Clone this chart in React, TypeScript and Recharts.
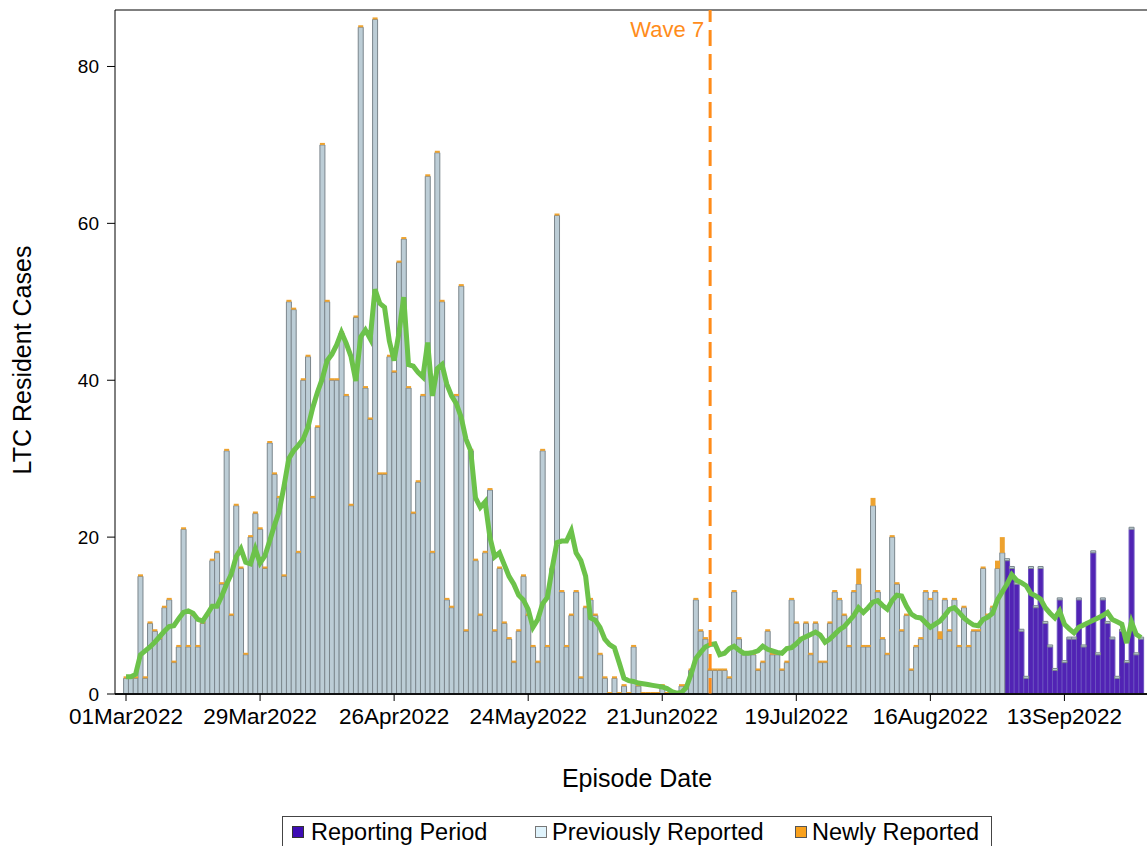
import React from 'react';
import { ComposedChart, Bar, Line, XAxis, YAxis, ReferenceLine } from 'recharts';

// daily LTC resident cases, 01Mar2022 = day 0
const dailyCases = [
  2, 2, 2, 15, 2, 9, 8, 7, 11, 12,
  4, 6, 21, 6, 10, 6, 9, 10, 17, 18,
  14, 31, 10, 24, 16, 5, 20, 23, 21, 16,
  32, 28, 25, 15, 50, 49, 18, 40, 43, 25,
  34, 70, 50, 40, 40, 46, 38, 24, 48, 85,
  39, 35, 86, 28, 28, 43, 41, 55, 58, 39,
  23, 27, 38, 66, 18, 69, 50, 12, 11, 38,
  52, 8, 31, 17, 10, 18, 26, 8, 16, 9,
  7, 4, 8, 15, 10, 6, 4, 31, 6, 16,
  61, 13, 6, 10, 13, 2, 11, 12, 10, 5,
  2, 0, 2, 0, 1, 0, 6, 1, 0, 0,
  0, 0, 1, 0, 0, 0, 1, 1, 3, 12,
  8, 7, 3, 3, 3, 3, 2, 13, 7, 5,
  5, 5, 3, 4, 8, 5, 5, 3, 4, 12,
  9, 7, 9, 5, 9, 4, 4, 9, 13, 12,
  10, 6, 13, 16, 6, 6, 25, 13, 7, 5,
  20, 14, 8, 10, 3, 6, 7, 13, 12, 13,
  8, 12, 8, 12, 6, 11, 6, 8, 8, 16,
  10, 11, 17, 20, 17, 16, 14, 8, 2, 16,
  11, 16, 9, 6, 3, 12, 4, 7, 7, 12,
  6, 9, 18, 5, 12, 9, 7, 2, 8, 4,
  21, 5, 7,
];

// [day, cases] newly reported on top of the daily bar
const newlyReported = [
  [153, 2],
  [156, 1],
  [170, 1],
  [182, 1],
  [183, 2],
];

// green moving-average line
const movingAvg = [
  2.2, 2.2, 2.5, 5.0, 5.5, 6.0, 6.6, 7.3, 8.0, 8.6,
  8.7, 9.6, 10.4, 10.6, 10.3, 9.5, 9.3, 10.2, 11.2, 11.2,
  12.5, 14.0, 15.3, 17.5, 18.5, 16.8, 16.6, 18.5, 16.7, 17.6,
  19.5, 21.5, 23.3, 26.5, 30.0, 31.0, 31.7, 32.5, 34.0, 36.5,
  38.5, 40.2, 42.5, 43.3, 44.5, 46.1, 44.7, 43.0, 39.9, 45.5,
  46.4, 45.3, 51.6, 49.8, 49.3, 45.0, 42.5, 46.0, 50.6, 42.0,
  41.8, 41.0, 40.4, 44.8, 38.0, 41.5, 42.0, 39.5, 38.0, 37.0,
  35.3, 32.5, 31.0, 25.0, 23.8, 24.5, 20.0, 17.5, 18.0, 16.5,
  15.0, 14.0, 12.6, 12.0, 10.8, 8.5, 9.5, 11.5, 12.3, 16.0,
  19.3, 19.5, 19.5, 20.8, 18.0, 17.0, 15.0, 9.7, 9.4, 8.5,
  7.0, 6.3, 5.9, 4.0, 2.0, 1.7, 1.6, 1.4, 1.3, 1.2,
  1.1, 1.0, 0.9, 0.7, 0.3, 0.1, 0.2, 0.8, 2.5, 4.5,
  5.3, 6.0, 6.3, 6.4, 5.0, 5.2, 5.8, 6.1, 5.6, 5.2,
  5.2, 5.3, 5.5, 6.1, 5.7, 5.5, 5.3, 5.2, 5.8, 5.9,
  6.4, 7.0, 7.3, 7.6, 7.9, 7.5, 6.6, 7.0, 7.6, 8.2,
  8.6, 9.3, 10.0, 11.0, 10.4, 11.0, 11.7, 11.9, 11.3, 10.8,
  11.9, 12.6, 12.5, 11.2, 10.2, 9.8, 9.7, 9.1, 8.5, 8.9,
  9.3, 10.0, 10.8, 11.0, 10.4, 9.7, 9.2, 8.8, 8.7, 9.5,
  9.8, 10.3, 12.0, 13.0, 14.0, 15.2, 14.5, 14.2, 13.8, 12.8,
  12.5, 12.1, 11.0, 10.3, 9.7, 10.6, 8.9, 8.3, 7.8, 8.5,
  8.8, 9.1, 9.4, 9.7, 10.0, 10.4, 9.5, 9.2, 8.9, 6.5,
  9.2, 7.6, 7.2,
];

const reportStartDay = 184; // 01Sep2022
const waveDay = 122; // 01Jul2022
const tickDays = [0, 28, 56, 84, 112, 140, 168, 196];
const tickLabels = ['01Mar2022', '29Mar2022', '26Apr2022', '24May2022', '21Jun2022', '19Jul2022', '16Aug2022', '13Sep2022'];
const yTicks = [0, 20, 40, 60, 80];

const FONT = '"Liberation Sans", Arial, sans-serif';
const ORANGE = '#ff8c1a';

const rows = dailyCases.map((total, day) => {
  const hit = newlyReported.find((n) => n[0] === day);
  const fresh = hit ? hit[1] : 0;
  const inPeriod = day >= reportStartDay;
  return {
    day,
    reporting: inPeriod ? total : 0,
    prev: inPeriod ? 0 : total - fresh,
    fresh: inPeriod ? 0 : fresh,
    avg: movingAvg[day],
  };
});

function WaveLabel(props: any) {
  const vb = props.viewBox || {};
  return (
    <text x={(vb.x ?? 0) - 6} y={(vb.y ?? 10) + 27} textAnchor="end" fill={ORANGE} fontSize={22} fontFamily={FONT}>
      Wave 7
    </text>
  );
}

const legendItems = [
  { label: 'Reporting Period', color: '#3d0cb4', border: '#333', box: 292, text: 311 },
  { label: 'Previously Reported', color: '#dff3fc', border: '#777', box: 535, text: 552 },
  { label: 'Newly Reported', color: '#f9a11d', border: '#555', box: 795, text: 812 },
];

export default function App() {
  return (
    <div
      style={{
        position: 'fixed',
        left: 0,
        top: 0,
        width: 1147,
        height: 846,
        overflow: 'hidden',
        background: '#fff',
        fontFamily: FONT,
      }}
    >
      <ComposedChart
        width={1153}
        height={846}
        data={rows}
        margin={{ top: 10, right: 0, bottom: 52, left: 0 }}
        barCategoryGap={0}
        barGap={0}
      >
        <XAxis
          dataKey="day"
          type="number"
          domain={[-2.3, 214.5]}
          allowDataOverflow
          ticks={tickDays}
          interval={0}
          tickFormatter={(v) => tickLabels[tickDays.indexOf(v)]}
          height={100}
          tickSize={7}
          tickMargin={7}
          tick={{ fontSize: 22.5, fill: '#000', fontFamily: FONT }}
          axisLine={{ stroke: '#000' }}
          tickLine={{ stroke: '#000' }}
        />
        <YAxis
          domain={[0, 87.2]}
          allowDataOverflow
          ticks={yTicks}
          interval={0}
          width={115}
          tickSize={8}
          tickMargin={8}
          tick={{ fontSize: 19, fill: '#000', fontFamily: FONT }}
          axisLine={{ stroke: '#000' }}
          tickLine={{ stroke: '#000' }}
        />
        <Bar dataKey="reporting" stackId="s" fill="#5123b4" stroke="#6c52c0" strokeWidth={1} isAnimationActive={false} />
        <Bar
          dataKey="prev"
          stackId="s"
          fill="#bccdd6"
          stroke="#7b868c"
          strokeWidth={1}
          minPointSize={(_v: any, i: number) => (i >= reportStartDay ? 2 : 0)}
          isAnimationActive={false}
        />
        <Bar
          dataKey="fresh"
          stackId="s"
          fill="#eda22f"
          minPointSize={(_v: any, i: number) => (i < reportStartDay ? 2 : 0)}
          isAnimationActive={false}
        />
        <Line
          dataKey="avg"
          type="linear"
          stroke="#6cc24a"
          strokeWidth={5}
          dot={false}
          activeDot={false}
          isAnimationActive={false}
        />
        <ReferenceLine y={0} stroke="#222" strokeWidth={2} />
        <ReferenceLine y={87.2} stroke="#000" strokeWidth={1} />
        <ReferenceLine
          x={waveDay}
          stroke={ORANGE}
          strokeWidth={3}
          strokeDasharray="16 8"
          label={WaveLabel}
        />
      </ComposedChart>

      <div
        style={{
          position: 'absolute',
          left: 22,
          top: 360,
          transform: 'translate(-50%, -50%) rotate(-90deg)',
          fontSize: 25,
          whiteSpace: 'nowrap',
          color: '#000',
        }}
      >
        LTC Resident Cases
      </div>
      <div
        style={{
          position: 'absolute',
          left: 637,
          top: 778,
          transform: 'translate(-50%, -50%)',
          fontSize: 25,
          whiteSpace: 'nowrap',
          color: '#000',
        }}
      >
        Episode Date
      </div>

      <div
        style={{
          position: 'absolute',
          left: 282,
          top: 816,
          width: 710,
          height: 34,
          border: '1px solid #444',
          boxSizing: 'border-box',
        }}
      />
      {legendItems.map((it) => (
        <React.Fragment key={it.label}>
          <div
            style={{
              position: 'absolute',
              left: it.box,
              top: 826,
              width: 12,
              height: 12,
              background: it.color,
              border: `1px solid ${it.border}`,
              boxSizing: 'border-box',
            }}
          />
          <div
            style={{
              position: 'absolute',
              left: it.text,
              top: 832,
              transform: 'translateY(-50%)',
              fontSize: 23.5,
              whiteSpace: 'nowrap',
              color: '#000',
            }}
          >
            {it.label}
          </div>
        </React.Fragment>
      ))}
    </div>
  );
}
